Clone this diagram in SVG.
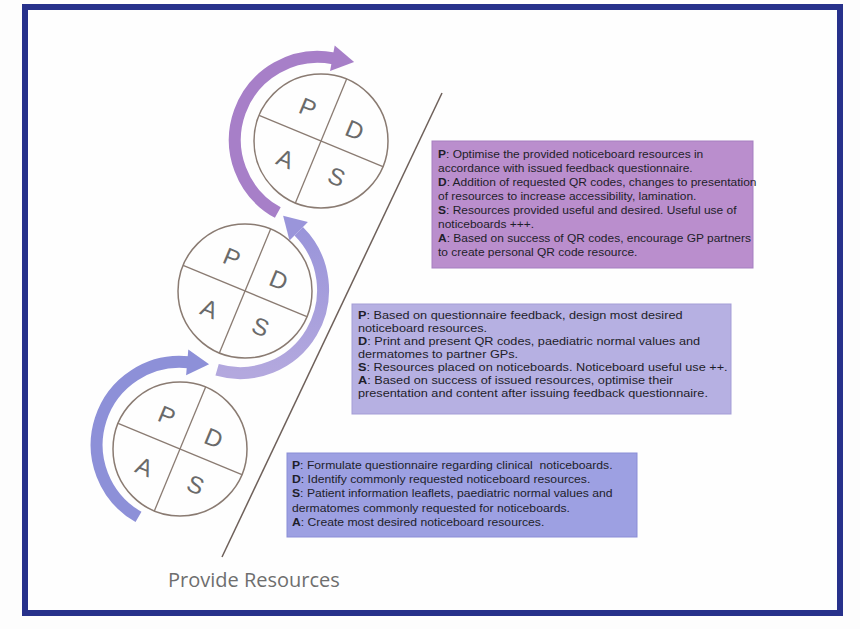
<svg xmlns="http://www.w3.org/2000/svg" width="860" height="629" viewBox="0 0 860 629">
  <style>
    .ring { fill: #fefefe; stroke: #8a7b72; stroke-width: 1.5; }
    .cross { stroke: #8a7b72; stroke-width: 1.3; }
    .letter { font-family: "Liberation Sans", Arial, sans-serif; font-size: 24px; fill: #6a6a6a; text-anchor: middle; dominant-baseline: central; }
    .band { fill: none; stroke-width: 12; stroke-linecap: butt; }
    .txt { font-family: "Liberation Sans", Arial, sans-serif; font-size: 10.5px; fill: #1e1e2a; white-space: pre; }
    .txt tspan.b { font-weight: bold; }
  </style>
  <defs>
    <linearGradient id="midGrad" x1="0" y1="1" x2="0" y2="0">
      <stop offset="0" stop-color="#b3a8de"/>
      <stop offset="1" stop-color="#9a95da"/>
    </linearGradient>
  </defs>

  <rect x="0" y="0" width="860" height="629" fill="#fdfdfd"/>
  <rect id="frame" x="25" y="7" width="815" height="606" fill="#fefefe" stroke="#27318b" stroke-width="6"/>

  <!-- separator line -->
  <line id="divider" x1="442" y1="93" x2="222" y2="557" stroke="#6e605a" stroke-width="1.5"/>

  <!-- PDSA cycles -->
  <g id="cycle-top" transform="translate(321,141)">
    <circle class="ring" r="67"/>
    <g transform="rotate(22.5)">
      <line class="cross" x1="-67" y1="0" x2="67" y2="0"/>
      <line class="cross" x1="0" y1="-67" x2="0" y2="67"/>
      <text class="letter" x="-25" y="-26">P</text>
      <text class="letter" x="27" y="-23">D</text>
      <text class="letter" x="-26" y="30">A</text>
      <text class="letter" x="28" y="27">S</text>
    </g>
  </g>
  <g id="cycle-middle" transform="translate(245,291)">
    <circle class="ring" r="67"/>
    <g transform="rotate(22.5)">
      <line class="cross" x1="-67" y1="0" x2="67" y2="0"/>
      <line class="cross" x1="0" y1="-67" x2="0" y2="67"/>
      <text class="letter" x="-25" y="-26">P</text>
      <text class="letter" x="27" y="-23">D</text>
      <text class="letter" x="-26" y="30">A</text>
      <text class="letter" x="28" y="27">S</text>
    </g>
  </g>
  <g id="cycle-bottom" transform="translate(180,449)">
    <circle class="ring" r="67"/>
    <g transform="rotate(22.5)">
      <line class="cross" x1="-67" y1="0" x2="67" y2="0"/>
      <line class="cross" x1="0" y1="-67" x2="0" y2="67"/>
      <text class="letter" x="-25" y="-26">P</text>
      <text class="letter" x="27" y="-23">D</text>
      <text class="letter" x="-26" y="30">A</text>
      <text class="letter" x="28" y="27">S</text>
    </g>
  </g>

  <!-- connectors: curved cycle arrows -->
  <g id="connectors">
    <path class="band" stroke="#8d90d8" d="M138.5,516.9 A83,83 0 0 1 188.5,362.3"/>
    <polygon fill="#8d90d8" points="188.3,349.4 209.1,364.2 186.1,375.2"/>

    <path class="band" stroke="url(#midGrad)" d="M217.1,369.8 A83,83 0 0 0 298.7,231.3"/>
    <polygon fill="#9a95da" points="307.9,222.1 283.1,215.7 289.5,240.5"/>

    <path class="band" stroke="#a77fc8" d="M277.8,212.6 A83,83 0 0 1 333.5,58.4"/>
    <polygon fill="#a77fc8" points="334.7,45.5 354.1,62.1 330.1,71.1"/>
  </g>

  <!-- text boxes -->
  <g id="box-top">
    <rect x="432" y="141" width="321" height="127" fill="#ba8ecd" stroke="#a57fc0" stroke-width="1"/>
    <g transform="translate(438,0) scale(1.14,1)">
      <text class="txt" x="0" y="158"><tspan class="b">P</tspan>: Optimise the provided noticeboard resources in</text>
      <text class="txt" x="0" y="172">accordance with issued feedback questionnaire.</text>
      <text class="txt" x="0" y="186"><tspan class="b">D</tspan>: Addition of requested QR codes, changes to presentation</text>
      <text class="txt" x="0" y="200">of resources to increase accessibility, lamination.</text>
      <text class="txt" x="0" y="214"><tspan class="b">S</tspan>: Resources provided useful and desired. Useful use of</text>
      <text class="txt" x="0" y="228">noticeboards +++.</text>
      <text class="txt" x="0" y="242"><tspan class="b">A</tspan>: Based on success of QR codes, encourage GP partners</text>
      <text class="txt" x="0" y="256">to create personal QR code resource.</text>
    </g>
  </g>

  <g id="box-middle">
    <rect x="352" y="304" width="379" height="110" fill="#b6b0e2" stroke="#a49dd6" stroke-width="1"/>
    <g transform="translate(358,0) scale(1.21,1)">
      <text class="txt" x="0" y="319"><tspan class="b">P</tspan>: Based on questionnaire feedback, design most desired</text>
      <text class="txt" x="0" y="332">noticeboard resources.</text>
      <text class="txt" x="0" y="345"><tspan class="b">D</tspan>: Print and present QR codes, paediatric normal values and</text>
      <text class="txt" x="0" y="358">dermatomes to partner GPs.</text>
      <text class="txt" x="0" y="371"><tspan class="b">S</tspan>: Resources placed on noticeboards. Noticeboard useful use ++.</text>
      <text class="txt" x="0" y="384"><tspan class="b">A</tspan>: Based on success of issued resources, optimise their</text>
      <text class="txt" x="0" y="397">presentation and content after issuing feedback questionnaire.</text>
    </g>
  </g>

  <g id="box-bottom">
    <rect x="287" y="453" width="350" height="84" fill="#9da0e2" stroke="#8a8dd6" stroke-width="1"/>
    <g transform="translate(292,0) scale(1.16,1)">
      <text class="txt" x="0" y="469"><tspan class="b">P</tspan>: Formulate questionnaire regarding clinical  noticeboards.</text>
      <text class="txt" x="0" y="483"><tspan class="b">D</tspan>: Identify commonly requested noticeboard resources.</text>
      <text class="txt" x="0" y="497"><tspan class="b">S</tspan>: Patient information leaflets, paediatric normal values and</text>
      <text class="txt" x="0" y="512">dermatomes commonly requested for noticeboards.</text>
      <text class="txt" x="0" y="526"><tspan class="b">A</tspan>: Create most desired noticeboard resources.</text>
    </g>
  </g>

  <text id="caption" x="168" y="587" font-family="'Open Sans', 'Liberation Sans', sans-serif" font-size="20" fill="#6e6e6e">Provide Resources</text>
</svg>
